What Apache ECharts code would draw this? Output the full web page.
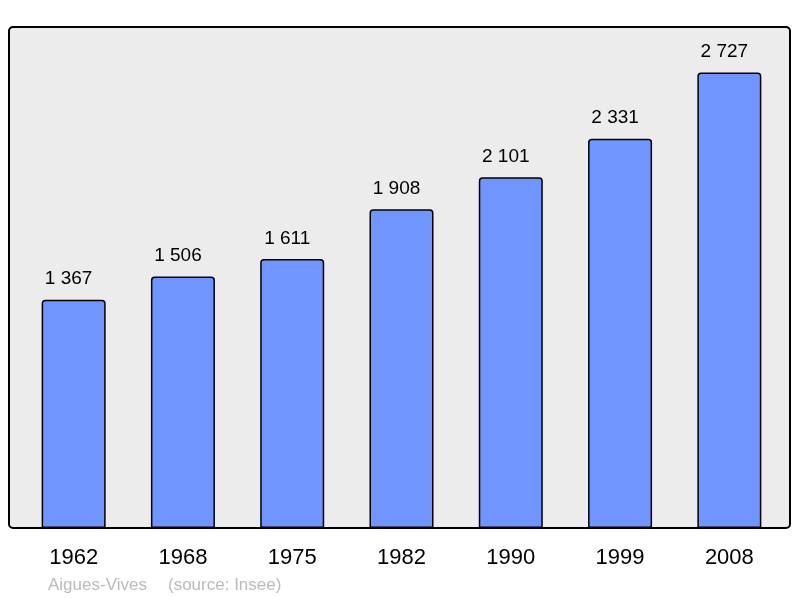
<!DOCTYPE html>
<html><head><meta charset="utf-8">
<script src="https://cdn.jsdelivr.net/npm/echarts@6/dist/echarts.min.js"></script>
<style>html,body{margin:0;padding:0;background:#fff}#c{width:800px;height:598px}</style>
</head><body><div id="c"></div>
<script>
var categories = ['1962','1968','1975','1982','1990','1999','2008'];
var population = [1367,1506,1611,1908,2101,2331,2727];
var footerPlace = 'Aigues-Vives';
var footerSource = '(source: Insee)';
var chart = echarts.init(document.getElementById('c'), null, {renderer:'canvas'});
function fmt(v){return String(v).replace(/\B(?=(\d{3})+(?!\d))/g,' ');}
var ff = '"Liberation Sans", Arial, sans-serif';
chart.setOption({
  animation:false,
  textStyle:{fontFamily:ff},
  graphic:[
    {type:'rect',z:-10,shape:{x:9,y:27,width:781,height:501,r:4},style:{fill:'#ececec',stroke:'#000',lineWidth:2}},
    {type:'text',x:48,y:585,style:{text:footerPlace,fill:'#bbbbbb',font:'17px '+ff,textVerticalAlign:'middle'}},
    {type:'text',x:168,y:585,style:{text:footerSource,fill:'#bbbbbb',font:'17px '+ff,textVerticalAlign:'middle'}}
  ],
  grid:{left:19,right:16,top:27,bottom:70},
  xAxis:{type:'category',data:categories,axisLine:{show:false},axisTick:{show:false},
    axisLabel:{color:'#000',fontSize:22,margin:19}},
  yAxis:{type:'value',min:0,max:3000,show:false,splitLine:{show:false}},
  series:[{type:'bar',data:population,barWidth:64,
    itemStyle:{color:'#7095ff',borderColor:'#000',borderWidth:1.5,borderRadius:[3,3,0,0]},
    label:{show:true,position:'top',distance:11,offset:[-5,0],color:'#000',fontSize:19,formatter:function(p){return fmt(p.value);}}
  }]
});
</script></body></html>
